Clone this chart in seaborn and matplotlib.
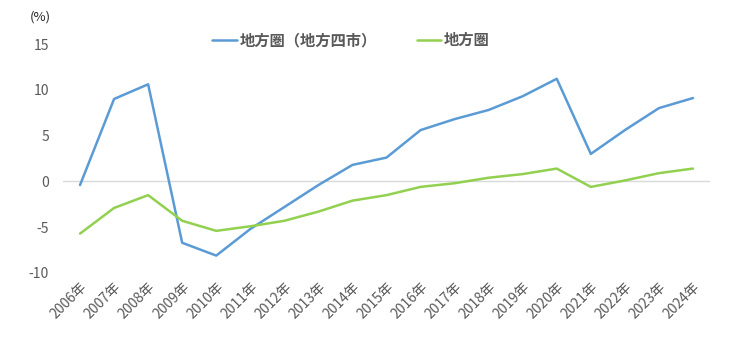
import matplotlib
matplotlib.use("Agg")
import matplotlib.pyplot as plt
import seaborn as sns
import pandas as pd
from matplotlib.lines import Line2D

years = [f"{y}年" for y in range(2006, 2025)]
series_names = ["地方圏（地方四市）", "地方圏"]
local_four = [-0.4, 9.0, 10.6, -6.7, -8.1, -5.2, -2.8, -0.4, 1.8, 2.6,
              5.6, 6.8, 7.8, 9.3, 11.2, 3.0, 5.6, 8.0, 9.1]
local = [-5.7, -2.9, -1.5, -4.3, -5.4, -4.9, -4.3, -3.3, -2.1, -1.5,
         -0.6, -0.2, 0.4, 0.8, 1.4, -0.6, 0.1, 0.9, 1.4]
y_ticks = [-10, -5, 0, 5, 10, 15]
colors = ["#5B9BD5", "#92D050"]

sns.set_theme(style="white")
plt.rcParams["font.family"] = ["Noto Sans CJK JP", "DejaVu Sans"]

df = pd.DataFrame({
    "year": years * 2,
    "idx": list(range(len(years))) * 2,
    "value": local_four + local,
    "series": [series_names[0]] * len(years) + [series_names[1]] * len(years),
})

fig = plt.figure(figsize=(7.3, 3.38), dpi=100)
ax = fig.add_axes([63/730, 1 - 273/338, (710 - 63)/730, (273 - 44)/338])

ax.axhline(0, color="#d9d9d9", lw=1, zorder=0)
sns.lineplot(data=df, x="idx", y="value", hue="series", palette=colors,
             hue_order=series_names, linewidth=1.8, ax=ax, legend=False)

ax.set_xlim(-0.5, len(years) - 0.5)
ax.set_ylim(-10, 15)
ax.set_yticks(y_ticks)
ax.set_yticklabels([str(t) for t in y_ticks], color="#595959", fontsize=10)
ax.set_xticks(range(len(years)))
ax.set_xticklabels(years, rotation=45, ha="right", rotation_mode="anchor",
                   color="#595959", fontsize=10)
ax.tick_params(axis="x", length=0, pad=5)
ax.tick_params(axis="y", length=0, pad=10)
ax.set_xlabel("")
ax.set_ylabel("")
for s in ax.spines.values():
    s.set_visible(False)

fig.text(40/730, 1 - 17/338, "(%)", ha="center", va="center",
         fontsize=9.5, color="#262626")

handles = [Line2D([], [], color=c, lw=1.8) for c in colors]
fig.legend(handles, series_names, loc="center", ncol=2,
           bbox_to_anchor=(351/730, 1 - 40/338), frameon=False,
           prop={"size": 11, "weight": "bold"}, labelcolor="#595959",
           handlelength=1.6, handletextpad=0.2, columnspacing=2.6)

fig.savefig("out.png", dpi=100, facecolor="white")
